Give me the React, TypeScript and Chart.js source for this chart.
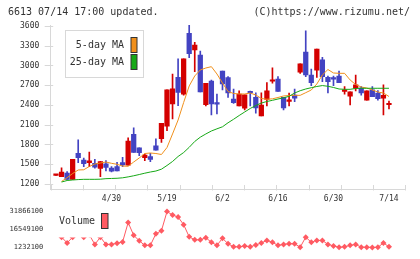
import React, { useEffect, useRef } from 'react';
import { Chart, registerables } from 'chart.js';
Chart.register(...registerables);

// ---------- data ----------
const dateLabels = ['4/30', '5/19', '6/2', '6/16', '6/30', '7/14'];
const dateLabelIndex = [10, 20, 30, 40, 50, 60];
const priceTicks = [1200, 1500, 1800, 2100, 2400, 2700, 3000, 3300, 3600];

const opens = [1332, 1310, 1365, 1270, 1665, 1565, 1525, 1515, 1435, 1505, 1440, 1465, 1525, 1485, 1955, 1750, 1600, 1615, 1780, 1890, 2080, 2415, 2820, 2565, 3490, 3235, 3160, 2405, 2765, 2416, 2915, 2815, 2490, 2385, 2350, 2590, 2515, 2235, 2485, 2760, 2795, 2515, 2455, 2550, 2900, 3205, 2855, 2930, 3085, 2820, 2795, 2840, 2607, 2535, 2655, 2655, 2475, 2630, 2580, 2505, 2404];
const closes = [1333, 1380, 1270, 1575, 1600, 1510, 1550, 1455, 1540, 1450, 1395, 1400, 1490, 1850, 1680, 1675, 1640, 1575, 1715, 2120, 2630, 2645, 2590, 3100, 3180, 3310, 2600, 2730, 2415, 2414, 2720, 2585, 2435, 2565, 2555, 2586, 2355, 2400, 2615, 2762, 2605, 2355, 2457, 2505, 3025, 2855, 2740, 3250, 2830, 2755, 2793, 2740, 2609, 2600, 2705, 2585, 2615, 2525, 2495, 2545, 2406];
const highs = [1333, 1445, 1390, 1575, 1870, 1595, 1685, 1575, 1545, 1555, 1465, 1530, 1605, 1900, 2055, 1750, 1655, 1665, 1885, 2120, 2630, 2870, 3100, 3100, 3615, 3350, 3220, 2730, 2780, 2565, 2915, 2830, 2640, 2615, 2555, 2610, 2585, 2585, 2740, 2965, 2830, 2515, 2580, 2640, 3025, 3525, 2945, 3250, 3125, 2840, 2840, 2915, 2680, 2600, 2855, 2680, 2615, 2680, 2620, 2705, 2460];
const lows = [1332, 1310, 1270, 1270, 1525, 1465, 1465, 1440, 1310, 1400, 1385, 1400, 1465, 1485, 1680, 1630, 1555, 1540, 1715, 1830, 2010, 2190, 2390, 2550, 3120, 2905, 2600, 2385, 2250, 2265, 2630, 2515, 2425, 2385, 2325, 2385, 2275, 2235, 2385, 2730, 2605, 2325, 2385, 2450, 2880, 2830, 2695, 2820, 2755, 2585, 2695, 2740, 2565, 2400, 2615, 2550, 2475, 2525, 2475, 2250, 2340];

const ma5 = [null, 1238, 1296, 1359, 1413, 1416, 1466, 1504, 1519, 1534, 1514, 1499, 1473, 1469, 1534, 1595, 1663, 1671, 1663, 1648, 1754, 1960, 2172, 2438, 2689, 2841, 2932, 2962, 2982, 2871, 2734, 2605, 2575, 2567, 2567, 2582, 2552, 2499, 2487, 2494, 2514, 2537, 2544, 2547, 2547, 2587, 2628, 2719, 2856, 2939, 2886, 2881, 2881, 2780, 2711, 2673, 2658, 2628, 2597, 2582, 2529];
const ma25 = [null, 1230, 1253, 1261, 1267, 1271, 1271, 1271, 1273, 1281, 1284, 1287, 1294, 1308, 1325, 1344, 1364, 1382, 1397, 1425, 1481, 1542, 1618, 1678, 1757, 1846, 1911, 1960, 2005, 2038, 2069, 2130, 2183, 2240, 2294, 2347, 2392, 2430, 2453, 2471, 2491, 2509, 2532, 2582, 2617, 2643, 2663, 2681, 2695, 2684, 2666, 2643, 2638, 2638, 2651, 2654, 2654, 2654, 2654, 2654, 2654];

const volumes = [null, 10000000, 5100000, 10000000, 13000000, 10000000, 12000000, 3800000, 10000000, 3800000, 3800000, 4800000, 5900000, 22500000, 11600000, 6900000, 3000000, 3000000, 12900000, 15500000, 31866100, 29000000, 27200000, 20700000, 10300000, 7700000, 7700000, 9500000, 5600000, 3000000, 9000000, 4350000, 1700000, 1700000, 2500000, 1700000, 3300000, 5100000, 7200000, 5600000, 3000000, 3800000, 4350000, 4350000, 1400000, 10000000, 5600000, 7200000, 7200000, 3800000, 2500000, 1400000, 1700000, 3000000, 3800000, 1400000, 1400000, 1232100, 1300000, 5100000, 1700000];
const volumeMin = 1232100;
const volumeMax = 31866100;

const headerLeft = '6613 07/14 17:00 updated.';
const headerRight = '(C)https://www.rizumu.net/';

// ---------- style ----------
const MONO = "'DejaVu Sans Mono', monospace";
const RED = '#d40000';
const BLUE = '#4343c2';
const ORANGE = '#f0901c';
const GREEN = '#16a816';
const VOLC = '#ff5a62';
const AXIS = '#d8d8d8';
const TEXT = '#333333';
const X_MIN = -0.955;
const X_MAX = 62.94;

const candleColors = opens.map((o, i) => (closes[i] >= o ? RED : BLUE));

const mainDecor = {
  id: 'mainDecor',
  afterDraw(chart: any) {
    const { ctx, chartArea } = chart;
    const { left, right, bottom } = chartArea;
    const y = chart.scales.y;
    ctx.save();
    ctx.strokeStyle = AXIS;
    ctx.lineWidth = 1;
    ctx.beginPath();
    priceTicks.forEach((v) => {
      const py = Math.round(y.getPixelForValue(v)) + 0.5;
      ctx.moveTo(left - 6, py);
      ctx.lineTo(left + 2.5, py);
    });
    for (let k = 0; k <= 11; k++) {
      const px = Math.round(left + ((right - left) * k) / 11) + 0.5;
      ctx.moveTo(px, bottom - 4);
      ctx.lineTo(px, bottom + 1.5);
    }
    ctx.stroke();

    // header
    ctx.fillStyle = TEXT;
    ctx.font = `10px ${MONO}`;
    ctx.textBaseline = 'middle';
    ctx.textAlign = 'left';
    ctx.fillText(headerLeft, 8, 12.5);
    ctx.textAlign = 'right';
    ctx.fillText(headerRight, 410, 12.5);

    // legend
    ctx.fillStyle = '#ffffff';
    ctx.fillRect(65, 30, 78, 47);
    ctx.strokeStyle = AXIS;
    ctx.strokeRect(65.5, 30.5, 78, 47);
    const items = [
      { label: chart.data.datasets[2].label, color: ORANGE, y: 37.5 },
      { label: chart.data.datasets[3].label, color: GREEN, y: 54.5 },
    ];
    items.forEach((it) => {
      ctx.fillStyle = TEXT;
      ctx.textAlign = 'right';
      ctx.fillText(it.label, 124, it.y + 8);
      ctx.fillStyle = it.color;
      ctx.fillRect(131, it.y, 6, 15);
      ctx.strokeStyle = '#333';
      ctx.strokeRect(131, it.y, 6, 15);
    });
    ctx.restore();
  },
};

const volDecor = {
  id: 'volDecor',
  afterDatasetsDraw(chart: any) {
    const { ctx } = chart;
    ctx.save();
    ctx.fillStyle = '#ffffff';
    ctx.fillRect(56, 10, 56, 27.5);
    ctx.fillStyle = TEXT;
    ctx.font = `10px ${MONO}`;
    ctx.textBaseline = 'middle';
    ctx.textAlign = 'left';
    ctx.fillText(chart.data.datasets[0].label, 59, 21.7);
    ctx.fillStyle = VOLC;
    ctx.fillRect(101.5, 13.5, 6.5, 15);
    ctx.strokeStyle = '#333';
    ctx.lineWidth = 1;
    ctx.strokeRect(101.5, 13.5, 6.5, 15);
    ctx.restore();
  },
};

export default function App() {
  const mainRef = useRef<HTMLCanvasElement>(null);
  const volRef = useRef<HTMLCanvasElement>(null);

  useEffect(() => {
    document.body.style.margin = '0';
    const wickData = lows.map((l, i) => ({ x: i, y: [l, highs[i]] }));
    const bodyData = opens.map((o, i) => ({ x: i, y: [o, closes[i]] }));
    const toPts = (arr: (number | null)[]) =>
      arr.map((v, i) => ({ x: i, y: v })).filter((p) => p.y !== null);

    const main = new Chart(mainRef.current!, {
      type: 'bar',
      data: {
        datasets: [
          {
            type: 'bar',
            label: 'wick',
            data: wickData as any,
            backgroundColor: candleColors,
            barThickness: 1,
            grouped: false,
            order: 4,
          } as any,
          {
            type: 'bar',
            label: 'body',
            data: bodyData as any,
            backgroundColor: candleColors,
            barThickness: 4.6,
            grouped: false,
            minBarLength: 1.5,
            order: 3,
          } as any,
          {
            type: 'line',
            label: '5-day MA',
            data: toPts(ma5) as any,
            borderColor: ORANGE,
            borderWidth: 1,
            pointRadius: 0,
            order: 2,
          },
          {
            type: 'line',
            label: '25-day MA',
            data: toPts(ma25) as any,
            borderColor: GREEN,
            borderWidth: 1,
            pointRadius: 0,
            order: 1,
          },
        ],
      },
      options: {
        animation: false,
        responsive: false,
        maintainAspectRatio: false,
        layout: { padding: { left: 0, right: 14.7, top: 25, bottom: 0 } },
        plugins: { legend: { display: false }, tooltip: { enabled: false } },
        scales: {
          x: {
            type: 'linear',
            offset: false,
            min: X_MIN,
            max: X_MAX,
            grid: { display: false, drawTicks: false, offset: false },
            border: { display: true, color: AXIS },
            afterBuildTicks: (s: any) => {
              s.ticks = dateLabelIndex.map((v) => ({ value: v }));
            },
            afterFit: (s: any) => {
              s.height = 17;
            },
            ticks: {
              autoSkip: false,
              maxRotation: 0,
              padding: 5,
              color: TEXT,
              font: { family: MONO, size: 8 },
              callback: (v: any) => {
                const k = dateLabelIndex.indexOf(Number(v));
                return k >= 0 ? dateLabels[k] : '';
              },
            },
          },
          y: {
            type: 'linear',
            min: 1124,
            max: 3615,
            grid: { display: false, drawTicks: false },
            border: { display: true, color: AXIS },
            afterBuildTicks: (s: any) => {
              s.ticks = priceTicks.map((v) => ({ value: v }));
            },
            afterFit: (s: any) => {
              s.width = 50.7;
            },
            ticks: {
              padding: 11.4,
              color: TEXT,
              font: { family: MONO, size: 8 },
              callback: (v: any) => String(v),
            },
          },
        },
      } as any,
      plugins: [mainDecor],
    });

    const vol = new Chart(volRef.current!, {
      type: 'line',
      data: {
        datasets: [
          {
            label: 'Volume',
            data: toPts(volumes) as any,
            borderColor: VOLC,
            backgroundColor: VOLC,
            borderWidth: 1,
            pointStyle: 'rectRot',
            pointRadius: 3,
            pointBorderWidth: 0,
            clip: false as any,
          },
        ],
      },
      options: {
        animation: false,
        responsive: false,
        maintainAspectRatio: false,
        layout: { padding: { left: 0, right: 14.7, top: 9, bottom: 10.7 } },
        plugins: { legend: { display: false }, tooltip: { enabled: false } },
        scales: {
          x: { type: 'linear', offset: false, min: X_MIN, max: X_MAX, display: false },
          y: {
            type: 'linear',
            min: volumeMin,
            max: volumeMax,
            grid: { display: false, drawTicks: false },
            border: { display: false },
            afterBuildTicks: (s: any) => {
              s.ticks = [volumeMin, (volumeMin + volumeMax) / 2, volumeMax].map((v) => ({ value: v }));
            },
            afterFit: (s: any) => {
              s.width = 50.7;
            },
            ticks: {
              padding: 7.4,
              color: TEXT,
              font: { family: MONO, size: 7 },
              callback: (v: any) => String(Math.round(Number(v))),
            },
          },
        },
      } as any,
      plugins: [volDecor],
    });

    return () => {
      main.destroy();
      vol.destroy();
    };
  }, []);

  return (
    <div style={{ position: 'relative', width: 420, height: 259, background: '#fff', overflow: 'hidden' }}>
      <canvas ref={mainRef} width={420} height={206} style={{ position: 'absolute', left: 0, top: 0 }} />
      <canvas ref={volRef} width={420} height={59} style={{ position: 'absolute', left: 0, top: 200 }} />
    </div>
  );
}
